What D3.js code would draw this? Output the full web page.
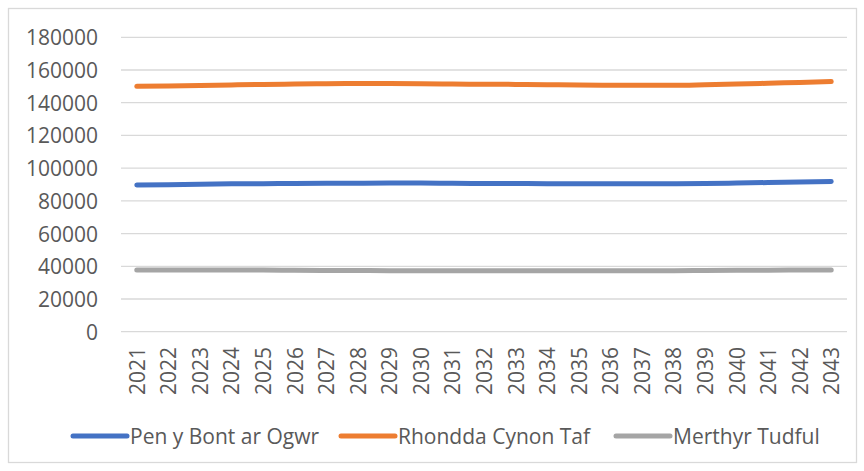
<!DOCTYPE html>
<html>
<head>
<meta charset="utf-8">
<title>line chart</title>
<script src="https://cdn.jsdelivr.net/npm/d3@7"></script>
<style>
  body { margin: 0; background: #fff; }
  text { font-family: "Open Sans", sans-serif; fill: #595959; }
</style>
</head>
<body>
<script>
var years = ["2021","2022","2023","2024","2025","2026","2027","2028","2029","2030","2031","2032",
             "2033","2034","2035","2036","2037","2038","2039","2040","2041","2042","2043"];
var penyBont = [89700,89900,90200,90400,90500,90600,90700,90800,90900,90900,90700,90600,
                90600,90500,90500,90500,90500,90500,90600,90900,91200,91500,91800];
var rhondda = [150000,150300,150600,150900,151200,151400,151600,151700,151700,151600,151400,151300,
               151200,151000,150800,150700,150700,150700,151000,151400,151900,152400,152900];
var merthyr = [37800,37800,37800,37700,37700,37500,37400,37400,37300,37300,37300,37300,
               37300,37300,37300,37300,37300,37300,37400,37500,37600,37700,37700];
var seriesNames = ["Pen y Bont ar Ogwr", "Rhondda Cynon Taf", "Merthyr Tudful"];
var yTicks = [0,20000,40000,60000,80000,100000,120000,140000,160000,180000];

var width = 864, height = 471;
var colors = ["#4472c4", "#ed7d31", "#a5a5a5"];
var series = [penyBont, rhondda, merthyr];

var svg = d3.select("body").append("svg").attr("width", width).attr("height", height);

// chart border
svg.append("rect").attr("x", 8.5).attr("y", 8.5).attr("width", 848).attr("height", 454)
   .attr("fill", "#fff").attr("stroke", "#d9d9d9").attr("stroke-width", 1.3);

var x = d3.scaleBand().domain(years).range([121, 847]);
var y = d3.scaleLinear().domain([0, 180000]).range([331.7, 37.3]);

// gridlines
svg.append("g").selectAll("line").data(yTicks).enter().append("line")
   .attr("x1", 121).attr("x2", 847)
   .attr("y1", d => y(d)).attr("y2", d => y(d))
   .attr("stroke", "#d9d9d9").attr("stroke-width", 1.3);

// y labels
svg.append("g").selectAll("text").data(yTicks).enter().append("text")
   .attr("x", 98).attr("y", d => y(d))
   .attr("text-anchor", "end").attr("dominant-baseline", "central")
   .style("font-size", "21px")
   .text(d => d);

// x labels
svg.append("g").selectAll("text").data(years).enter().append("text")
   .attr("transform", d => "translate(" + (x(d) + x.bandwidth() / 2) + ",347) rotate(-90)")
   .attr("text-anchor", "end").attr("dominant-baseline", "central")
   .style("font-size", "21px")
   .text(d => d);

var line = d3.line()
   .x((d, i) => x(years[i]) + x.bandwidth() / 2)
   .y(d => y(d))
   .curve(d3.curveMonotoneX);

svg.append("g").selectAll("path").data(series).enter().append("path")
   .attr("d", line)
   .attr("fill", "none")
   .attr("stroke", (d, i) => colors[i])
   .attr("stroke-width", 5)
   .attr("stroke-linecap", "round");

// legend
var legendX = [73, 341, 616];
var lg = svg.append("g").selectAll("g").data(seriesNames).enter().append("g")
   .attr("transform", (d, i) => "translate(" + legendX[i] + ",436)");
lg.append("line").attr("x1", 0).attr("x2", 54).attr("y1", 0).attr("y2", 0)
   .attr("stroke", (d, i) => colors[i]).attr("stroke-width", 5).attr("stroke-linecap", "round");
lg.append("text").attr("x", 57).attr("y", 0).attr("dominant-baseline", "central")
   .style("font-size", "21px")
   .text(d => d);
</script>
</body>
</html>
